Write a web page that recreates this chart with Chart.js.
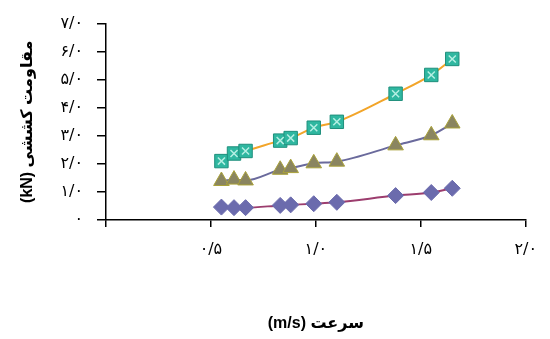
<!DOCTYPE html>
<html>
<head>
<meta charset="utf-8">
<script src="https://cdn.jsdelivr.net/npm/chart.js@4"></script>
<style>
    html, body { margin: 0; padding: 0; background: #fff; }
    #wrap { width: 550px; height: 339px; }
</style>
</head>
<body>
<div id="wrap"><canvas id="chart" width="550" height="339" dir="rtl"></canvas></div>
<script>
// speed (m/s)
const speeds = [0.55, 0.61, 0.665, 0.83, 0.88, 0.99, 1.10, 1.38, 1.55, 1.65];
// draft resistance (kN)
const lowSeries = [0.46, 0.44, 0.44, 0.52, 0.54, 0.58, 0.63, 0.87, 0.98, 1.13];
const midSeries = [1.39, 1.44, 1.41, 1.79, 1.85, 2.02, 2.08, 2.66, 3.02, 3.44];
const topSeries = [2.10, 2.37, 2.46, 2.83, 2.92, 3.29, 3.50, 4.50, 5.17, 5.74];

const xTickLabels = ['', '۰/۵', '۱/۰', '۱/۵', '۲/۰'];
const yTickLabels = ['۰', '۱/۰', '۲/۰', '۳/۰', '۴/۰', '۵/۰', '۶/۰', '۷/۰'];

const xTitle = 'سرعت (m/s)';
const yTitle = 'مقاومت کششی (kN)';

const toPoints = values => values.map((v, i) => ({ x: speeds[i], y: v }));

const tickFont = { family: "'DejaVu Sans'", size: 16 };
const titleFont = { family: "'Liberation Sans', 'DejaVu Sans'", size: 16, weight: 'bold' };

new Chart(document.getElementById('chart'), {
    type: 'scatter',
    data: {
        datasets: [
            {
                data: toPoints(lowSeries),
                order: 1,
                showLine: true,
                borderColor: '#9c3d6e',
                borderWidth: 2,
                cubicInterpolationMode: 'monotone',
                pointStyle: 'rectRot',
                pointRadius: 8,
                pointBackgroundColor: '#6b6bad',
                pointBorderColor: '#6b6bad',
                pointBorderWidth: 1
            },
            {
                data: toPoints(midSeries),
                order: 1,
                showLine: true,
                borderColor: '#6a6a9c',
                borderWidth: 2,
                cubicInterpolationMode: 'monotone',
                pointStyle: 'triangle',
                pointRadius: 9,
                pointBackgroundColor: '#8a8560',
                pointBorderColor: '#aaa23a',
                pointBorderWidth: 1
            },
            {
                data: toPoints(topSeries),
                order: 1,
                showLine: true,
                borderColor: '#f2a52a',
                borderWidth: 2,
                cubicInterpolationMode: 'monotone',
                pointStyle: 'rect',
                pointRadius: 9.5,
                pointBackgroundColor: '#2fb7a0',
                pointBorderColor: '#1f8f7c',
                pointBorderWidth: 1
            },
            {
                // light cross drawn on top of the squares
                data: toPoints(topSeries),
                order: 0,
                showLine: false,
                pointStyle: 'crossRot',
                pointRadius: 5,
                pointBackgroundColor: '#b5efe3',
                pointBorderColor: '#b5efe3',
                pointBorderWidth: 1.5
            }
        ]
    },
    options: {
        responsive: false,
        animation: false,
        layout: { padding: { top: 5, right: 23, bottom: 0, left: 0 } },
        plugins: {
            legend: { display: false },
            tooltip: { enabled: false }
        },
        scales: {
            x: {
                type: 'linear',
                min: 0,
                max: 2,
                afterFit: scale => { scale.height = 119; },
                ticks: {
                    stepSize: 0.5,
                    padding: 13,
                    color: '#000',
                    font: tickFont,
                    maxRotation: 0,
                    callback: (value, index) => xTickLabels[index]
                },
                grid: { drawOnChartArea: false, drawTicks: true, tickLength: 7, color: '#000', lineWidth: 1.5 },
                border: { display: true, color: '#000', width: 1.5 },
                title: { display: true, text: xTitle, color: '#000', font: titleFont, padding: { top: 50, bottom: 6 } }
            },
            y: {
                min: 0,
                max: 7,
                afterFit: scale => { scale.width = 106; },
                ticks: {
                    stepSize: 1,
                    padding: 14,
                    color: '#000',
                    font: tickFont,
                    callback: (value, index) => yTickLabels[index]
                },
                grid: { drawOnChartArea: false, drawTicks: true, tickLength: 9, color: '#000', lineWidth: 1.5 },
                border: { display: true, color: '#000', width: 1.5 },
                title: { display: true, text: yTitle, color: '#000', font: titleFont, padding: { top: 18, bottom: 10 } }
            }
        }
    }
});
</script>
</body>
</html>
